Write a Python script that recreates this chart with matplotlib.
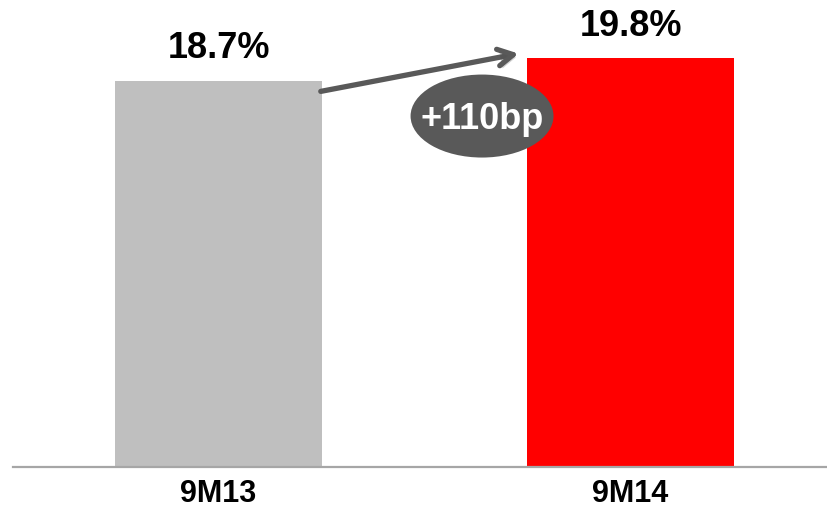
import matplotlib
matplotlib.use("Agg")
import matplotlib.pyplot as plt
from matplotlib.patches import Ellipse
import matplotlib.patheffects as pe

categories = ["9M13", "9M14"]
values = [18.7, 19.8]
bar_colors = ["#BFBFBF", "#FF0000"]
change_label = "+110bp"

plt.rcParams["font.family"] = ["Liberation Sans", "DejaVu Sans"]

fig = plt.figure(figsize=(8.27, 5.10), dpi=100)
ax = fig.add_axes([13 / 827, 42 / 510, 1 - 13 / 827, 468 / 510])

x = list(range(len(categories)))
ax.bar(x, values, width=0.502, color=bar_colors, zorder=2)

for xi, v in zip(x, values):
    ax.text(xi, v + 0.75, f"{v:.1f}%", ha="center", va="bottom",
            fontsize=26, fontweight="bold", color="black")

ax.set_xlim(-0.499, 1.477)
ax.set_ylim(0, 22.67)

# growth arrow from the first bar towards the second
ax.annotate("", xy=(0.735, 20.05), xytext=(0.2415, 18.17),
            arrowprops=dict(arrowstyle="->,head_length=1.1,head_width=0.6",
                            color="#595959", lw=3.8,
                            path_effects=[pe.SimplePatchShadow(offset=(2, -2), alpha=0.25),
                                          pe.Normal()]),
            zorder=4)

# change badge
ell = Ellipse((0.6396, 17.0), width=0.347, height=4.02,
              facecolor="#595959", edgecolor="none", zorder=5)
ax.add_patch(ell)
ax.text(0.6396, 16.9, change_label, ha="center", va="center",
        fontsize=26, fontweight="bold", color="white", zorder=6)

ax.set_xticks(x)
ax.set_xticklabels(categories, fontsize=22, fontweight="bold")
ax.tick_params(axis="x", length=0, pad=8)
ax.set_yticks([])
for side in ["top", "right", "left"]:
    ax.spines[side].set_visible(False)
ax.spines["bottom"].set_color("#A6A6A6")
ax.spines["bottom"].set_linewidth(1.6)

fig.savefig("out.png", dpi=100)
